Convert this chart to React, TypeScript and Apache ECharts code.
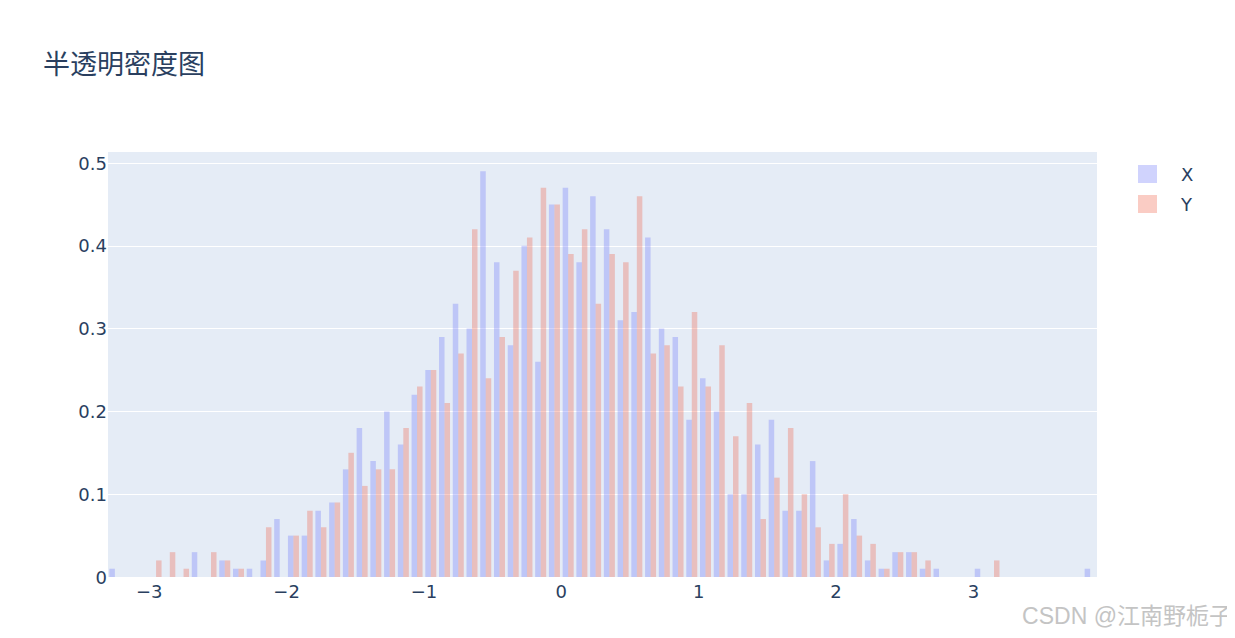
import React, { useEffect, useRef } from "react";
import * as echarts from "echarts";

// Histogram bins: start at -3.3, width 0.1 (72 bins up to 3.9)
const BIN_START = -3.3;
const BIN_SIZE = 0.1;

// probability density per bin, series X
const X_DENSITY = [
  0.01, 0, 0, 0, 0, 0, 0.03, 0, 0.02, 0.01,
  0.01, 0.02, 0.07, 0.05, 0.05, 0.08, 0.09, 0.13, 0.18, 0.14,
  0.2, 0.16, 0.22, 0.25, 0.29, 0.33, 0.3, 0.49, 0.38, 0.28,
  0.4, 0.26, 0.45, 0.47, 0.38, 0.46, 0.42, 0.31, 0.32, 0.41,
  0.3, 0.29, 0.19, 0.24, 0.2, 0.1, 0.1, 0.16, 0.19, 0.08,
  0.08, 0.14, 0.02, 0.04, 0.07, 0.02, 0.01, 0.03, 0.03, 0.01,
  0.01, 0, 0, 0.01, 0, 0, 0, 0, 0, 0,
  0, 0.01,
];

// probability density per bin, series Y
const Y_DENSITY = [
  0, 0, 0, 0.02, 0.03, 0.01, 0, 0.03, 0.02, 0.01,
  0, 0.06, 0, 0.05, 0.08, 0.06, 0.09, 0.15, 0.11, 0.13,
  0.13, 0.18, 0.23, 0.25, 0.21, 0.27, 0.42, 0.24, 0.29, 0.37,
  0.41, 0.47, 0.45, 0.39, 0.42, 0.33, 0.39, 0.38, 0.46, 0.27,
  0.28, 0.23, 0.32, 0.23, 0.28, 0.17, 0.21, 0.07, 0.12, 0.18,
  0.1, 0.06, 0.04, 0.1, 0.05, 0.04, 0.01, 0.03, 0.03, 0.02,
  0, 0, 0, 0, 0.02, 0, 0, 0, 0, 0,
  0, 0,
];

const SERIES_NAMES = ["X", "Y"];
const X_TICKS = [-3, -2, -1, 0, 1, 2, 3];
const Y_TICKS = [0, 0.1, 0.2, 0.3, 0.4, 0.5];
const TITLE = "半透明密度图";
const WATERMARK = "CSDN @江南野栀子";

const X_MIN = -3.3;
const X_MAX = 3.9;
const Y_MAX = 0.5145;

const COLOR_X = "rgba(99,110,250,0.3)";
const COLOR_Y = "rgba(239,85,59,0.3)";
const TEXT = "#2a3f5f";
const TICK_FONT = '"DejaVu Sans", Verdana, sans-serif';

function makeSeries(name: string, values: number[], color: string, offset: number) {
  return {
    name,
    type: "custom",
    itemStyle: { color },
    encode: { x: 0, y: 1 },
    data: values.map((v, i) => [BIN_START + i * BIN_SIZE, v]),
    renderItem: (params: any, api: any) => {
      const start = api.value(0);
      const v = api.value(1);
      if (!v) return null;
      const p0 = api.coord([start + offset, v]);
      const p1 = api.coord([start + offset + BIN_SIZE * 0.4, 0]);
      return {
        type: "rect",
        shape: { x: p0[0], y: p0[1], width: p1[0] - p0[0], height: p1[1] - p0[1] },
        style: { fill: color },
      };
    },
  };
}

export default function App() {
  const ref = useRef<HTMLDivElement>(null);
  useEffect(() => {
    if (!ref.current) return;
    const chart = echarts.init(ref.current, undefined, { renderer: "svg" });
    chart.setOption({
      animation: false,
      backgroundColor: "#fff",
      title: {
        text: TITLE,
        left: 38,
        top: 44,
        textStyle: {
          fontSize: 27,
          fontWeight: "normal",
          color: TEXT,
          fontFamily: '"Noto Sans CJK SC", sans-serif',
        },
      },
      legend: {
        orient: "vertical",
        left: 1133,
        top: 160,
        itemWidth: 19,
        itemHeight: 18,
        itemGap: 12,
        icon: "rect",
        data: [
          { name: SERIES_NAMES[0], itemStyle: { color: COLOR_X } },
          { name: SERIES_NAMES[1], itemStyle: { color: COLOR_Y } },
        ],
        textStyle: { fontSize: 18, color: TEXT, fontFamily: TICK_FONT, padding: [0, 0, 0, 19] },
      },
      grid: {
        left: 108,
        right: 138,
        top: 151,
        bottom: 61,
        show: true,
        backgroundColor: "#e5ecf6",
        borderWidth: 0,
      },
      xAxis: {
        type: "value",
        min: X_MIN,
        max: X_MAX,
        axisLine: { show: false },
        axisTick: { show: false },
        splitLine: { show: false },
        axisLabel: {
          customValues: X_TICKS,
          margin: 5,
          fontSize: 18,
          color: TEXT,
          fontFamily: TICK_FONT,
          formatter: (v: number) => (v < 0 ? "\u2212" + Math.abs(v) : String(v)),
        },
      },
      yAxis: {
        type: "value",
        min: 0,
        max: Y_MAX,
        interval: 0.1,
        axisLine: { show: false },
        axisTick: { show: false },
        splitLine: { show: true, lineStyle: { color: "#ffffff", width: 1 } },
        axisLabel: {
          margin: 1,
          fontSize: 18,
          color: TEXT,
          fontFamily: TICK_FONT,
          formatter: (v: number) => {
            const t = Y_TICKS.find((k) => Math.abs(k - v) < 1e-6);
            if (t === undefined) return "";
            return t === 0 ? "0" : t.toFixed(1);
          },
        },
      },
      series: [
        makeSeries(SERIES_NAMES[0], X_DENSITY, COLOR_X, BIN_SIZE * 0.1),
        makeSeries(SERIES_NAMES[1], Y_DENSITY, COLOR_Y, BIN_SIZE * 0.5),
      ],
      graphic: [
        {
          type: "text",
          right: 3,
          top: 604,
          style: {
            text: WATERMARK,
            fontSize: 23,
            fill: "#c4c4c4",
            fontFamily: '"Liberation Sans", "Noto Sans CJK SC", sans-serif',
          },
        },
      ],
    });
    return () => chart.dispose();
  }, []);
  return <div ref={ref} style={{ width: 1235, height: 638, margin: -8 }} />;
}
